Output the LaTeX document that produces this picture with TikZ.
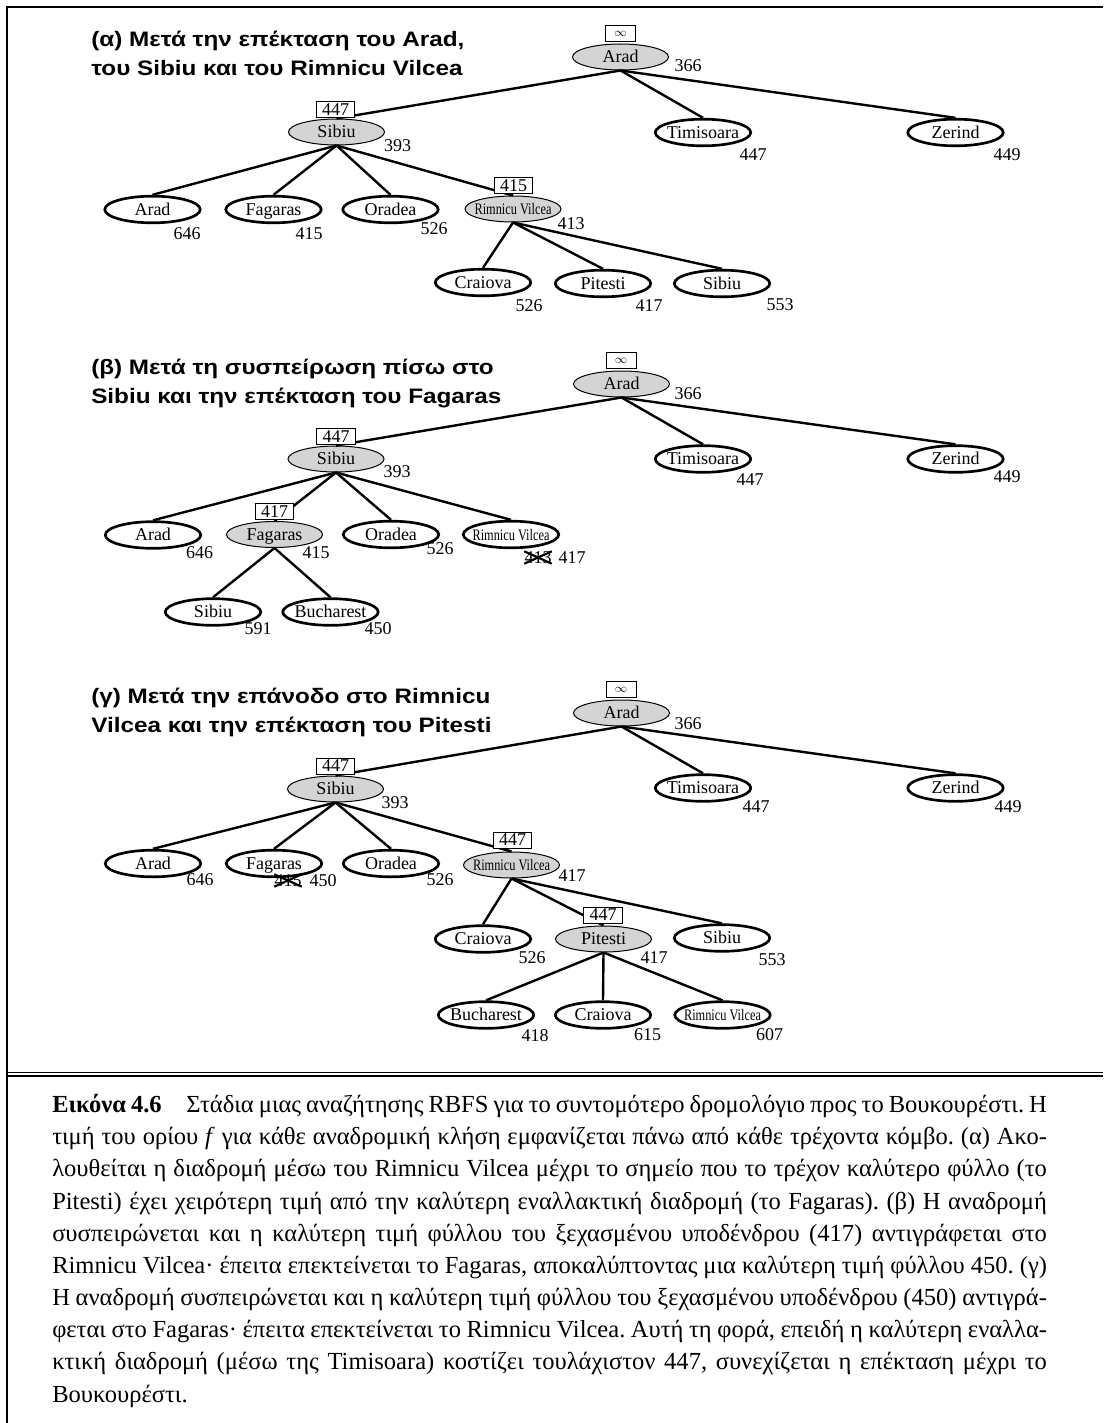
\documentclass[tikz,border=0pt]{standalone}
\usepackage{graphicx}
\usepackage{fontspec}
\setmainfont{Liberation Serif}
\newfontfamily\ttlfont{Liberation Sans}
\usetikzlibrary{shapes.geometric}
\newcommand\ctext[1]{\makebox[0pt]{#1}}
\newcommand\rvtext{\makebox[0pt]{\scalebox{0.77}[1]{\fontsize{12}{12}\selectfont Rimnicu Vilcea}}}
\newcommand\ttltext[1]{\scalebox{1.16}[1]{#1}}
\frenchspacing
\begin{document}
\begin{tikzpicture}[x=0.75pt,y=-0.75pt,
  nfont/.style={font=\fontsize{13.5}{15}\selectfont,text height=8.9pt,text depth=0pt},
  gnode/.style={ellipse,draw,line width=0.75pt,fill=black!17,minimum width=72pt,minimum height=19.5pt,inner sep=0pt,nfont},
  wnode/.style={ellipse,draw,line width=2pt,fill=white,minimum width=71.6pt,minimum height=20pt,inner sep=0pt,nfont},
  fbox/.style={draw,line width=0.75pt,fill=white,inner sep=0pt,minimum width=29pt,minimum height=12pt,nfont},
  ibox/.style={draw,line width=0.75pt,fill=white,inner sep=0pt,minimum width=22.5pt,minimum height=12pt,font=\fontsize{9.5}{10}\selectfont},
  num/.style={inner sep=0pt,nfont},
  link/.style={line width=1.8pt},
  xline/.style={line width=1.6pt},
  ttl/.style={anchor=base west,inner sep=0pt,font=\ttlfont\bfseries\fontsize{15.7}{18}\selectfont},
  capline/.style={anchor=base west,inner sep=0pt,font=\fontsize{18.4}{22}\selectfont},
  frameline/.style={line width=1.3pt}
]
\useasboundingbox (0,0) rectangle (1103,1423);
% frame
\draw[frameline] (7.3,1423) -- (7.3,7) -- (1103,7);
\draw[line width=1.1pt] (7.3,1072.7) -- (1103,1072.7);
\draw[line width=1.1pt] (7.3,1075.8) -- (1103,1075.8);

% ================= panel (a)
\node[ttl] (ta1) at (91,46.5) {\ttltext{(α) Μετά την επέκταση του Arad,}};
\node[ttl] (ta2) at (91,75.5) {\ttltext{του Sibiu και του Rimnicu Vilcea}};
\node[gnode] (aArad) at (620.5,57) {\ctext{Arad}};
\node[wnode] (aTim) at (703,132.5) {\ctext{Timisoara}};
\node[wnode] (aZer) at (955.5,132.5) {\ctext{Zerind}};
\node[gnode] (aSib) at (336.5,132) {\ctext{Sibiu}};
\node[wnode] (aAr2) at (152.5,209.5) {\ctext{Arad}};
\node[wnode] (aFag) at (273.5,209.5) {\ctext{Fagaras}};
\node[wnode] (aOra) at (390.5,209.5) {\ctext{Oradea}};
\node[gnode] (aRV) at (513,209) {\rvtext};
\node[wnode] (aCra) at (483,282.5) {\ctext{Craiova}};
\node[wnode] (aPit) at (603,283.5) {\ctext{Pitesti}};
\node[wnode] (aSi2) at (722,283.5) {\ctext{Sibiu}};
\draw[link] (aArad.south) -- (aSib.north);
\draw[link] (aArad.south) -- (aTim.north);
\draw[link] (aArad.south) -- (aZer.north);
\draw[link] (aSib.south) -- (aAr2.north);
\draw[link] (aSib.south) -- (aFag.north);
\draw[link] (aSib.south) -- (aOra.north);
\draw[link] (aSib.south) -- (aRV.north);
\draw[link] (aRV.south) -- (aCra.north);
\draw[link] (aRV.south) -- (aPit.north);
\draw[link] (aRV.south) -- (aSi2.north);
\node[ibox] (aAradB) at (620.5,34) {$\infty$};
\node[fbox] (aSibB) at (335.5,109.5) {447};
\node[fbox] (aRVB) at (513.5,186) {415};
\node[num] (aN366) at (688,65.5) {366};
\node[num] (aN447) at (753,155) {447};
\node[num] (aN449) at (1007,155) {449};
\node[num] (aN393) at (397.5,145.5) {393};
\node[num] (aN646) at (187,233.5) {646};
\node[num] (aN415) at (309,233.5) {415};
\node[num] (aN526) at (434,229) {526};
\node[num] (aN413) at (571,223.5) {413};
\node[num] (aN526b) at (529,306) {526};
\node[num] (aN417) at (649,306) {417};
\node[num] (aN553) at (780,304.5) {553};

% ================= panel (b)
\node[ttl] (tb1) at (91,374) {\ttltext{(β) Μετά τη συσπείρωση πίσω στο}};
\node[ttl] (tb2) at (91,403) {\ttltext{Sibiu και την επέκταση του Fagaras}};
\node[gnode] (bArad) at (621.5,384) {\ctext{Arad}};
\node[wnode] (bTim) at (703,459) {\ctext{Timisoara}};
\node[wnode] (bZer) at (955.5,459) {\ctext{Zerind}};
\node[gnode] (bSib) at (336,459) {\ctext{Sibiu}};
\node[wnode] (bAr2) at (153,535) {\ctext{Arad}};
\node[gnode] (bFag) at (274.5,534.5) {\ctext{Fagaras}};
\node[wnode] (bOra) at (391,534.5) {\ctext{Oradea}};
\node[wnode] (bRV) at (511,534.5) {\rvtext};
\node[wnode] (bSi2) at (213,612) {\ctext{Sibiu}};
\node[wnode] (bBuc) at (330.5,612) {\ctext{Bucharest}};
\draw[link] (bArad.south) -- (bSib.north);
\draw[link] (bArad.south) -- (bTim.north);
\draw[link] (bArad.south) -- (bZer.north);
\draw[link] (bSib.south) -- (bAr2.north);
\draw[link] (bSib.south) -- (bFag.north);
\draw[link] (bSib.south) -- (bOra.north);
\draw[link] (bSib.south) -- (bRV.north);
\draw[link] (bFag.south) -- (bSi2.north);
\draw[link] (bFag.south) -- (bBuc.north);
\node[ibox] (bAradB) at (621,360.5) {$\infty$};
\node[fbox] (bSibB) at (336,436.5) {447};
\node[fbox] (bFagB) at (274.5,511.5) {417};
\node[num] (bN366) at (688,393.5) {366};
\node[num] (bN447) at (750,480) {447};
\node[num] (bN449) at (1007,476.5) {449};
\node[num] (bN393) at (397,471.5) {393};
\node[num] (bN646) at (199.5,553) {646};
\node[num] (bN415) at (316,553) {415};
\node[num] (bN526) at (440,548.5) {526};
\node[num] (bX413) at (538,557.5) {413};
\draw[xline] (bX413.south west) -- (bX413.north east);
\draw[xline] (bX413.north west) -- (bX413.south east);
\node[num] (bN417) at (572,557.5) {417};
\node[num] (bN591) at (258,629) {591};
\node[num] (bN450) at (378,629) {450};

% ================= panel (c)
\node[ttl] (tc1) at (91,703) {\ttltext{(γ) Μετά την επάνοδο στο Rimnicu}};
\node[ttl] (tc2) at (91,732) {\ttltext{Vilcea και την επέκταση του Pitesti}};
\node[gnode] (cArad) at (621.5,713) {\ctext{Arad}};
\node[wnode] (cTim) at (703,788) {\ctext{Timisoara}};
\node[wnode] (cZer) at (955.5,788) {\ctext{Zerind}};
\node[gnode] (cSib) at (335.5,789) {\ctext{Sibiu}};
\node[wnode] (cAr2) at (153,863.5) {\ctext{Arad}};
\node[wnode] (cFag) at (274,863.5) {\ctext{Fagaras}};
\node[wnode] (cOra) at (391,863.5) {\ctext{Oradea}};
\node[gnode] (cRV) at (511.5,865) {\rvtext};
\node[wnode] (cCra) at (483,939) {\ctext{Craiova}};
\node[gnode] (cPit) at (603.5,939) {\ctext{Pitesti}};
\node[wnode] (cSi2) at (722,938) {\ctext{Sibiu}};
\node[wnode] (cBuc) at (486,1015) {\ctext{Bucharest}};
\node[wnode] (cCr2) at (603,1015) {\ctext{Craiova}};
\node[wnode] (cRV2) at (722.5,1015) {\rvtext};
\draw[link] (cArad.south) -- (cSib.north);
\draw[link] (cArad.south) -- (cTim.north);
\draw[link] (cArad.south) -- (cZer.north);
\draw[link] (cSib.south) -- (cAr2.north);
\draw[link] (cSib.south) -- (cFag.north);
\draw[link] (cSib.south) -- (cOra.north);
\draw[link] (cSib.south) -- (cRV.north);
\draw[link] (cRV.south) -- (cCra.north);
\draw[link] (cRV.south) -- (cPit.north);
\draw[link] (cRV.south) -- (cSi2.north);
\draw[link] (cPit.south) -- (cBuc.north);
\draw[link] (cPit.south) -- (cCr2.north);
\draw[link] (cPit.south) -- (cRV2.north);
\node[ibox] (cAradB) at (621,689.5) {$\infty$};
\node[fbox] (cSibB) at (335.5,766) {447};
\node[fbox] (cRVB) at (512.5,840) {447};
\node[fbox] (cPitB) at (603,915) {447};
\node[num] (cN366) at (688,723.5) {366};
\node[num] (cN447) at (756,807) {447};
\node[num] (cN449) at (1008,807) {449};
\node[num] (cN393) at (395,802.5) {393};
\node[num] (cN646) at (200,879.5) {646};
\node[num] (cX415) at (288,880.5) {415};
\draw[xline] (cX415.south west) -- (cX415.north east);
\draw[xline] (cX415.north west) -- (cX415.south east);
\node[num] (cN450) at (323,880.5) {450};
\node[num] (cN526) at (440,879.5) {526};
\node[num] (cN417) at (572,875.5) {417};
\node[num] (cN526b) at (532,958) {526};
\node[num] (cN417b) at (654,958) {417};
\node[num] (cN553) at (772,960) {553};
\node[num] (cN418) at (535,1035.5) {418};
\node[num] (cN615) at (647.5,1035) {615};
\node[num] (cN607) at (769.5,1035) {607};

% ================= caption
\node[capline] (c1) at (52,1112.5) {\makebox[746pt][s]{\textbf{Εικόνα 4.6}\hspace{1em}Στάδια μιας αναζήτησης RBFS για το συντομότερο δρομολόγιο προς το Βουκουρέστι. Η}};
\node[capline] (c2) at (52,1144.7) {\makebox[746pt][s]{τιμή του ορίου \textit{f} για κάθε αναδρομική κλήση εμφανίζεται πάνω από κάθε τρέχοντα κόμβο. (α) Ακο-}};
\node[capline] (c3) at (52,1176.8) {\makebox[746pt][s]{λουθείται η διαδρομή μέσω του Rimnicu Vilcea μέχρι το σημείο που το τρέχον καλύτερο φύλλο (το}};
\node[capline] (c4) at (52,1209) {\makebox[746pt][s]{Pitesti) έχει χειρότερη τιμή από την καλύτερη εναλλακτική διαδρομή (το Fagaras). (β) Η αναδρομή}};
\node[capline] (c5) at (52,1241.2) {\makebox[746pt][s]{συσπειρώνεται και η καλύτερη τιμή φύλλου του ξεχασμένου υποδένδρου (417) αντιγράφεται στο}};
\node[capline] (c6) at (52,1273.3) {\makebox[746pt][s]{Rimnicu Vilcea· έπειτα επεκτείνεται το Fagaras, αποκαλύπτοντας μια καλύτερη τιμή φύλλου 450. (γ)}};
\node[capline] (c7) at (52,1305.5) {\makebox[746pt][s]{Η αναδρομή συσπειρώνεται και η καλύτερη τιμή φύλλου του ξεχασμένου υποδένδρου (450) αντιγρά-}};
\node[capline] (c8) at (52,1337.7) {\makebox[746pt][s]{φεται στο Fagaras· έπειτα επεκτείνεται το Rimnicu Vilcea. Αυτή τη φορά, επειδή η καλύτερη εναλλα-}};
\node[capline] (c9) at (52,1369.8) {\makebox[746pt][s]{κτική διαδρομή (μέσω της Timisoara) κοστίζει τουλάχιστον 447, συνεχίζεται η επέκταση μέχρι το}};
\node[capline] (c10) at (52,1402) {Βουκουρέστι.};
\end{tikzpicture}
\end{document}
